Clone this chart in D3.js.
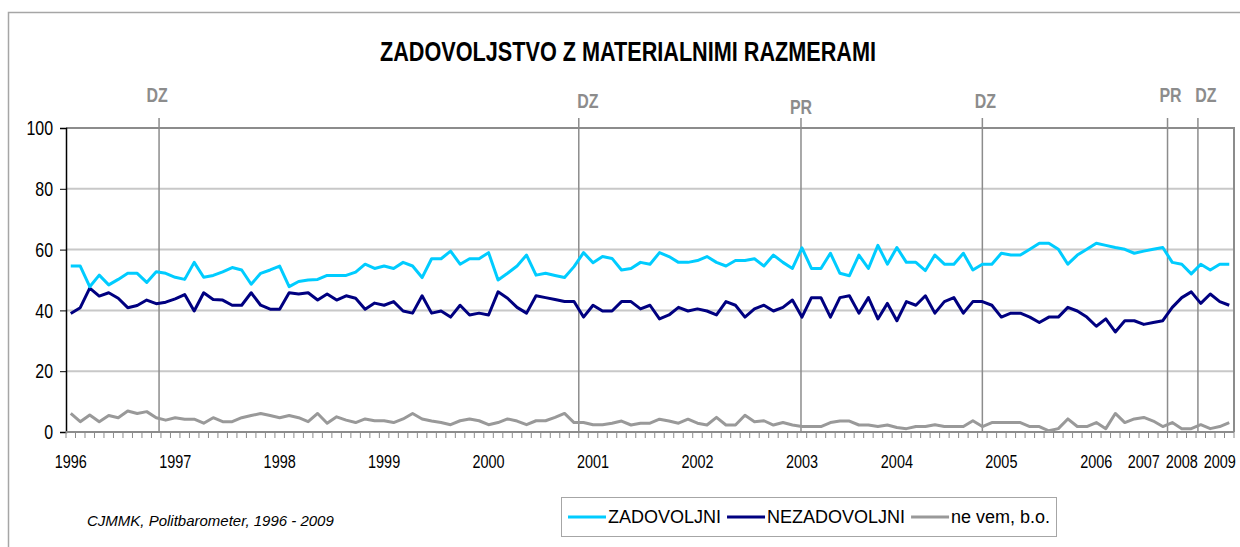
<!DOCTYPE html>
<meta charset="utf-8">

<!-- Load d3.js -->
<script src="https://d3js.org/d3.v7.min.js"></script>

<style>
  body { margin: 0; background: #fff; }
  text { font-family: "Liberation Sans", Arial, sans-serif; }
</style>

<div id="chart"></div>

<script>
// survey results, one value per Politbarometer wave (123 waves)
var zadovoljni = [54.6,54.6,47.8,51.6,48.4,50.2,52.2,52.2,49.2,52.7,52.2,50.9,50.2,55.8,50.9,51.5,52.7,54.1,53.3,48.6,
  52.2,53.3,54.6,47.8,49.5,50.0,50.2,51.5,51.5,51.5,52.6,55.2,53.8,54.6,53.8,55.8,54.6,50.8,57.0,57.0,
  59.5,55.2,57.0,57.0,59.0,50.0,52.2,54.6,58.2,51.6,52.2,51.5,50.8,54.4,59.0,55.7,57.7,57.1,53.3,53.8,
  55.8,55.2,59.0,57.7,55.8,55.8,56.4,57.7,55.8,54.6,56.4,56.4,57.0,54.6,58.2,55.8,53.8,60.6,53.8,53.8,
  58.8,52.2,51.4,58.2,53.8,61.4,55.2,60.7,55.8,55.8,53.1,58.2,55.2,55.2,58.8,53.3,55.2,55.2,58.8,58.2,
  58.2,60.1,62.1,62.1,60.1,55.2,58.2,60.1,62.1,61.4,60.7,60.1,58.8,59.5,60.1,60.7,55.8,55.2,52.0,55.2,
  53.3,55.2,55.2];

var nezadovoljni = [39.0,40.9,47.3,44.7,45.8,44.0,40.9,41.6,43.4,42.2,42.7,43.8,45.2,39.8,45.8,43.6,43.4,41.7,41.7,45.8,
  41.7,40.4,40.4,45.8,45.4,45.8,43.4,45.4,43.4,44.8,44.0,40.4,42.4,41.7,42.9,39.8,39.1,44.8,39.1,39.8,
  37.8,41.7,38.5,39.1,38.5,46.1,44.0,41.0,39.1,44.8,44.2,43.6,42.9,42.9,37.8,41.7,39.8,39.8,42.9,42.9,
  40.5,41.7,37.2,38.5,41.0,39.8,40.5,39.8,38.5,42.9,41.7,37.8,40.5,41.7,39.8,41.0,43.4,37.8,44.2,44.2,
  37.8,44.2,44.8,39.1,44.2,37.2,42.3,36.6,42.9,41.7,44.8,39.1,42.9,44.2,39.1,42.9,42.9,41.7,37.8,39.1,
  39.1,37.8,36.0,37.8,37.8,41.0,39.8,37.8,34.8,37.2,32.9,36.6,36.6,35.4,36.0,36.6,41.0,44.2,46.1,42.3,
  45.4,42.9,41.7];

var neVem = [6.1,3.4,5.6,3.4,5.4,4.7,6.9,6.1,6.7,4.7,3.9,4.7,4.2,4.2,2.9,4.7,3.4,3.4,4.7,5.4,
  6.1,5.4,4.7,5.4,4.7,3.4,6.1,2.9,5.0,3.9,3.1,4.3,3.7,3.7,3.1,4.3,6.1,4.3,3.6,3.1,
  2.4,3.7,4.3,3.7,2.4,3.1,4.3,3.6,2.4,3.7,3.7,4.8,6.1,3.1,3.1,2.4,2.4,2.9,3.6,2.3,
  2.9,2.9,4.2,3.6,2.9,4.2,2.9,2.3,4.8,2.3,2.3,5.5,3.4,3.7,2.3,3.1,2.3,1.8,1.8,1.8,
  3.1,3.6,3.6,2.3,2.3,1.8,2.3,1.5,1.1,1.8,1.8,2.4,1.8,1.8,1.8,3.7,1.8,3.1,3.1,3.1,
  3.1,1.8,1.8,0.4,1.1,4.3,1.8,1.8,3.1,1.1,6.1,3.1,4.3,4.8,3.6,1.8,3.1,1.1,1.1,2.4,
  1.1,1.8,3.1];

var seriesNames = ["ZADOVOLJNI", "NEZADOVOLJNI", "ne vem, b.o."];
var seriesColors = ["#00ccff", "#000080", "#999999"];

// year labels and the wave at which each year starts
var yearLabels = ["1996","1997","1998","1999","2000","2001","2002","2003","2004","2005","2006","2007","2008","2009"];
var yearWave = [0, 11, 22, 33, 44, 55, 66, 77, 87, 98, 108, 113, 117, 121];

// elections: DZ = parliament, PR = president (position in waves)
var eventLabels = ["DZ", "DZ", "PR", "DZ", "PR", "DZ"];
var eventWave = [9.8, 54.0, 77.4, 96.5, 116.0, 119.2];

var yTicks = [0, 20, 40, 60, 80, 100];

var width = 1240, height = 547;
var margin = {top: 128, right: 6, bottom: 115, left: 66};
var narrow = 0.76; // squeeze for the condensed chart font

var svg = d3.select("#chart")
  .append("svg")
    .attr("width", width)
    .attr("height", height);

// outer chart frame
svg.append("path")
  .attr("d", "M8.5," + height + "V12.5H" + width)
  .attr("fill", "none")
  .attr("stroke", "#a6a6a6")
  .attr("stroke-width", 1.5);

var x = d3.scaleLinear()
  .domain([0, zadovoljni.length])
  .range([margin.left, width - margin.right]);

var y = d3.scaleLinear()
  .domain([0, 100])
  .range([height - margin.bottom, margin.top]);

// title
svg.append("text")
  .attr("x", 380)
  .attr("y", 61)
  .attr("textLength", 496)
  .attr("lengthAdjust", "spacingAndGlyphs")
  .style("font-size", "27px")
  .style("font-weight", "bold")
  .text("ZADOVOLJSTVO Z MATERIALNIMI RAZMERAMI");

// gridlines
svg.append("g")
  .selectAll("line")
  .data(yTicks.filter(function(d) { return d > 0 && d < 100; }))
  .enter()
  .append("line")
    .attr("x1", x(0))
    .attr("x2", x(zadovoljni.length))
    .attr("y1", function(d) { return y(d); })
    .attr("y2", function(d) { return y(d); })
    .attr("stroke", "#c8c8c8")
    .attr("stroke-width", 2);

// plot frame top and right
svg.append("path")
  .attr("d", "M" + x(0) + "," + y(100) + "H" + x(zadovoljni.length) + "V" + y(0))
  .attr("fill", "none")
  .attr("stroke", "#8c8c8c")
  .attr("stroke-width", 2);

// y axis
var yAxis = svg.append("g")
  .attr("transform", "translate(" + x(0) + ",0)")
  .call(d3.axisLeft(y).tickValues(yTicks).tickSize(6).tickPadding(11));
yAxis.select(".domain").attr("stroke", "#000").attr("stroke-width", 1.5);
yAxis.selectAll(".tick line").attr("stroke", "#000");
yAxis.selectAll("text")
  .attr("fill", "#000")
  .attr("transform", "scale(" + narrow + ",1)")
  .style("font-size", "21px")
  .style("font-family", "'Liberation Sans', Arial, sans-serif");

// x axis: a tick between every wave
var xAxis = svg.append("g")
  .attr("transform", "translate(0," + y(0) + ")");
xAxis.append("line")
  .attr("x1", x(0))
  .attr("x2", x(zadovoljni.length))
  .attr("stroke", "#8c8c8c")
  .attr("stroke-width", 2);
xAxis.selectAll(".wt")
  .data(d3.range(zadovoljni.length + 1))
  .enter()
  .append("line")
    .attr("class", "wt")
    .attr("x1", function(d) { return x(d); })
    .attr("x2", function(d) { return x(d); })
    .attr("y1", 0)
    .attr("y2", 6)
    .attr("stroke", "#8c8c8c")
    .attr("stroke-width", 1);
xAxis.selectAll(".yl")
  .data(yearLabels)
  .enter()
  .append("text")
    .attr("class", "yl")
    .attr("transform", function(d, i) {
      return "translate(" + x(yearWave[i] + 0.5) + ",36) scale(" + narrow + ",1)";
    })
    .attr("text-anchor", "middle")
    .style("font-size", "19px")
    .text(function(d) { return d; });

// election lines
var labelY = [102, 108, 114, 108, 102, 102];
var labelDx = [-2, 9, 0, 3, 3, 8];
var ev = svg.append("g");
ev.selectAll("line")
  .data(eventWave)
  .enter()
  .append("line")
    .attr("x1", function(d) { return x(d); })
    .attr("x2", function(d) { return x(d); })
    .attr("y1", 118)
    .attr("y2", y(0))
    .attr("stroke", "#8c8c8c")
    .attr("stroke-width", 1.5);
ev.selectAll("text")
  .data(eventLabels)
  .enter()
  .append("text")
    .attr("transform", function(d, i) {
      return "translate(" + (x(eventWave[i]) + labelDx[i]) + "," + labelY[i] + ") scale(" + narrow + ",1)";
    })
    .attr("text-anchor", "middle")
    .attr("fill", "#8c8c8c")
    .style("font-size", "21px")
    .style("font-weight", "bold")
    .text(function(d) { return d; });

// series lines
var line = d3.line()
  .x(function(d, i) { return x(i + 0.5); })
  .y(function(d) { return y(d); });

[neVem, nezadovoljni, zadovoljni].forEach(function(s, k) {
  svg.append("path")
    .datum(s)
    .attr("fill", "none")
    .attr("stroke", seriesColors[2 - k])
    .attr("stroke-width", 3)
    .attr("stroke-linejoin", "round")
    .attr("d", line);
});

// source note
svg.append("text")
  .attr("x", 87)
  .attr("y", 526)
  .style("font-size", "15px")
  .style("font-style", "italic")
  .text("CJMMK, Politbarometer, 1996 - 2009");

// legend
var legend = svg.append("g");
legend.append("rect")
  .attr("x", 561.5)
  .attr("y", 497.5)
  .attr("width", 495)
  .attr("height", 39)
  .attr("fill", "#fff")
  .attr("stroke", "#a6a6a6");

var lx = 568;
seriesNames.forEach(function(name, i) {
  legend.append("line")
    .attr("x1", lx)
    .attr("x2", lx + 38)
    .attr("y1", 517)
    .attr("y2", 517)
    .attr("stroke", seriesColors[i])
    .attr("stroke-width", 3);
  var t = legend.append("text")
    .attr("x", lx + 40)
    .attr("y", 523)
    .style("font-size", "18px")
    .text(name);
  lx += 40 + t.node().getComputedTextLength() + 6;
});
</script>
